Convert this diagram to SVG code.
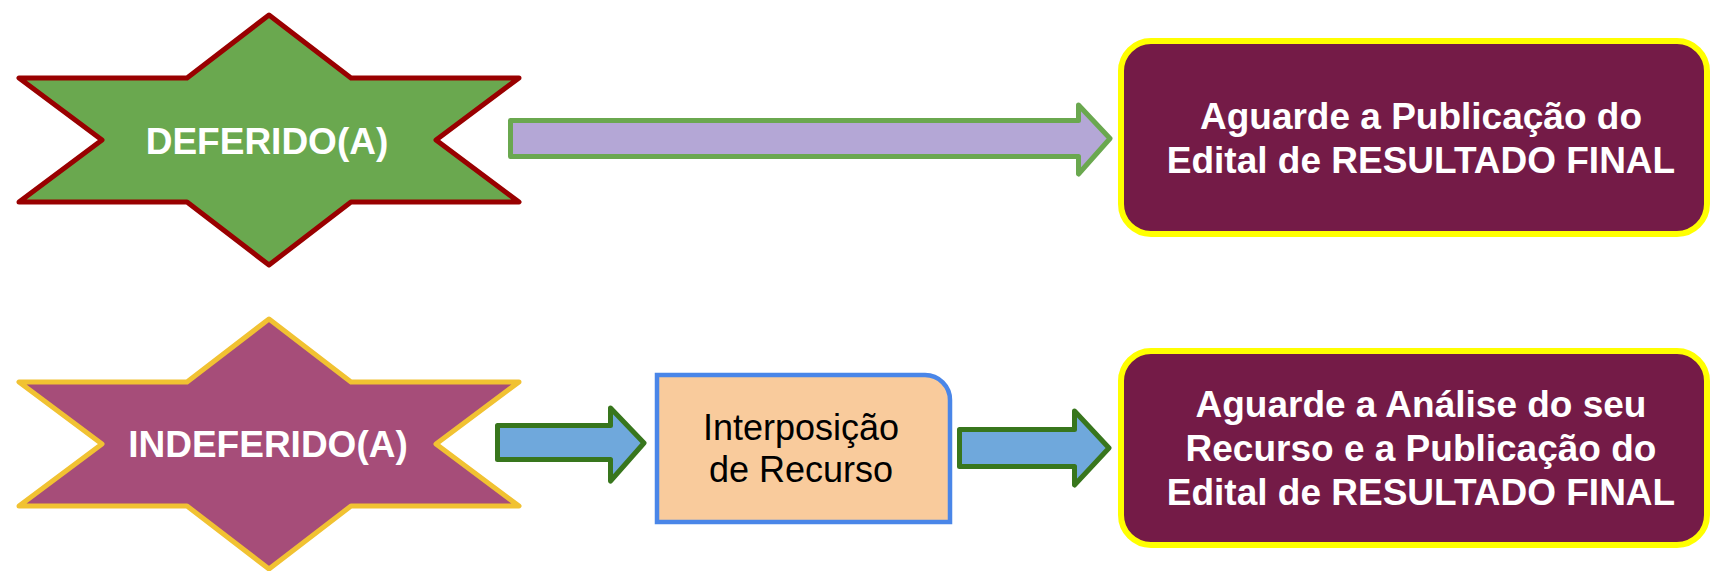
<svg xmlns="http://www.w3.org/2000/svg" width="1711" height="571" viewBox="0 0 1711 571">
<style>
.lbl{font-family:"Liberation Sans",Arial,sans-serif;font-weight:bold;font-size:37px;fill:#ffffff;text-anchor:middle}
.dark{font-family:"Liberation Sans",Arial,sans-serif;font-size:36px;fill:#000000;text-anchor:middle}
.star1{fill:#6aa84f;stroke:#990000;stroke-width:5;stroke-linejoin:round}
.star2{fill:#a64d79;stroke:#f1c232;stroke-width:5;stroke-linejoin:round}
.final{fill:#741b47;stroke:#ffff00;stroke-width:6}
.arrowP{fill:#b4a7d6;stroke:#6aa84f;stroke-width:5;stroke-linejoin:round}
.arrowB{fill:#6fa8dc;stroke:#38761d;stroke-width:5;stroke-linejoin:round}
</style>
<rect width="1711" height="571" fill="#ffffff"/>
<g id="connectors">
<polygon class="arrowP" points="510.5,120.5 1078.5,120.5 1078.5,105 1110,138.5 1078.5,174 1078.5,156.5 510.5,156.5"/>
<polygon class="arrowB" points="497.5,425.5 610.5,425.5 610.5,408 644,443 610.5,481 610.5,459.5 497.5,459.5"/>
<polygon class="arrowB" points="959.5,429.5 1074.5,429.5 1074.5,411 1109,448 1074.5,485 1074.5,466.5 959.5,466.5"/>
</g>
<g id="deferido">
<polygon class="star1" points="269,15 351,78 519,78 436,140 519,202 351,202 269,265 187,202 19,202 102,140 19,78 187,78"/>
<text class="lbl" x="267" y="154">DEFERIDO(A)</text>
</g>
<g id="indeferido">
<polygon class="star2" points="269,319 351,382 519,382 436,444 519,506 351,506 269,569 187,506 19,506 102,444 19,382 187,382"/>
<text class="lbl" x="268" y="457">INDEFERIDO(A)</text>
</g>
<g id="resultado1">
<rect class="final" x="1121" y="41" width="586" height="193" rx="30" ry="30"/>
<text class="lbl" x="1421" y="129">Aguarde a Publicação do</text>
<text class="lbl" x="1421" y="173">Edital de RESULTADO FINAL</text>
</g>
<g id="recurso">
<path d="M657,375 H925 A25,25 0 0 1 950,400 V522 H657 Z" fill="#f9cb9c" stroke="#4a86e8" stroke-width="4.5"/>
<text class="dark" x="801" y="440">Interposição</text>
<text class="dark" x="801" y="482">de Recurso</text>
</g>
<g id="resultado2">
<rect class="final" x="1121" y="351" width="586" height="194" rx="30" ry="30"/>
<text class="lbl" x="1421" y="417">Aguarde a Análise do seu</text>
<text class="lbl" x="1421" y="461">Recurso e a Publicação do</text>
<text class="lbl" x="1421" y="505">Edital de RESULTADO FINAL</text>
</g>
</svg>
